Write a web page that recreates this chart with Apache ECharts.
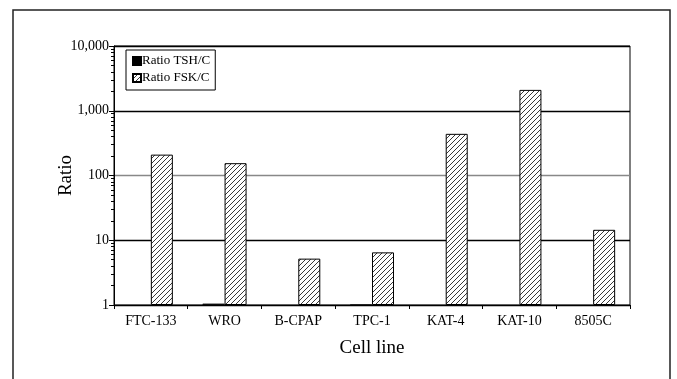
<!DOCTYPE html>
<html><head><meta charset="utf-8">
<script src="https://cdn.jsdelivr.net/npm/echarts@6/dist/echarts.min.js"></script>
<style>html,body{margin:0;padding:0;background:#fff}#c{width:677px;height:379px}</style>
</head><body><div id="c"></div>
<script>
const categories = ['FTC-133','WRO','B-CPAP','TPC-1','KAT-4','KAT-10','8505C'];
const tshValues = [null, 1.05, null, 1.02, null, null, null];
const fskValues = [210, 155, 5.2, 6.5, 440, 2100, 14.5];
const yTicks = [1, 10, 100, 1000, 10000];
const seriesNames = ['Ratio TSH/C', 'Ratio FSK/C'];

const pc = document.createElement('canvas');
pc.width = 5; pc.height = 5;
const g = pc.getContext('2d');
g.fillStyle = '#fff'; g.fillRect(0,0,5,5);
g.strokeStyle = '#222'; g.lineWidth = 0.9;
g.beginPath();
g.moveTo(-1,6); g.lineTo(6,-1);
g.moveTo(-1,1); g.lineTo(1,-1);
g.moveTo(4,6); g.lineTo(6,4);
g.stroke();
const hatch = {image: pc, repeat: 'repeat'};

const chart = echarts.init(document.getElementById('c'));
const fmt = v => Number(v).toLocaleString('en-US');
chart.setOption({
  animation: false,
  textStyle: {fontFamily: 'Liberation Serif'},
  graphic: [{type:'rect', shape:{x:13, y:10, width:657, height:380}, style:{fill:'none', stroke:'#222', lineWidth:1.5}}],
  grid: {left:114, right:47, top:46, bottom:74, show:true, borderColor:'#000', borderWidth:1, backgroundColor:'transparent'},
  legend: {
    data: seriesNames, orient:'vertical', left:126, top:50,
    itemWidth:8, itemHeight:8, itemGap:3, padding:[4,5,5,6],
    borderColor:'#000', borderWidth:1, backgroundColor:'#fff',
    textStyle:{fontFamily:'Liberation Serif', fontSize:13, lineHeight:14, color:'#000', padding:[0,0,0,-4]},
    icon:'rect'
  },
  xAxis: {
    type:'category', data: categories,
    name:'Cell line', nameLocation:'middle', nameGap:34,
    nameTextStyle:{fontFamily:'Liberation Serif', fontSize:19, color:'#000'},
    axisLine:{lineStyle:{color:'#000', width:1}},
    axisTick:{show:true, length:4, lineStyle:{color:'#000'}},
    axisLabel:{fontFamily:'Liberation Serif', fontSize:14, color:'#000', margin:9}
  },
  yAxis: {
    type:'log', logBase:10, min: yTicks[0], max: yTicks[yTicks.length-1],
    name:'Ratio', nameLocation:'middle', nameGap:38, nameMoveOverlap:false,
    nameTextStyle:{fontFamily:'Liberation Serif', fontSize:19, color:'#000'},
    axisLine:{show:true, lineStyle:{color:'#000', width:1}},
    axisTick:{show:true, length:5, lineStyle:{color:'#000'}},
    minorTick:{show:true, splitNumber:9, length:3, lineStyle:{color:'#000'}},
    axisLabel:{fontFamily:'Liberation Serif', fontSize:14, color:'#000', margin:5, formatter: fmt},
    splitLine:{show:true, lineStyle:{color:['#000','#000','#888','#000','#000'], width:1.4}}
  },
  series: [
    {name: seriesNames[0], type:'bar', data: tshValues, barWidth:22, barGap:'0%',
     itemStyle:{color:'#000', borderColor:'#000', borderWidth:0.5}},
    {name: seriesNames[1], type:'bar', data: fskValues, barWidth:22, barGap:'0%',
     itemStyle:{color: hatch, borderColor:'#000', borderWidth:1}}
  ]
});
</script></body></html>
